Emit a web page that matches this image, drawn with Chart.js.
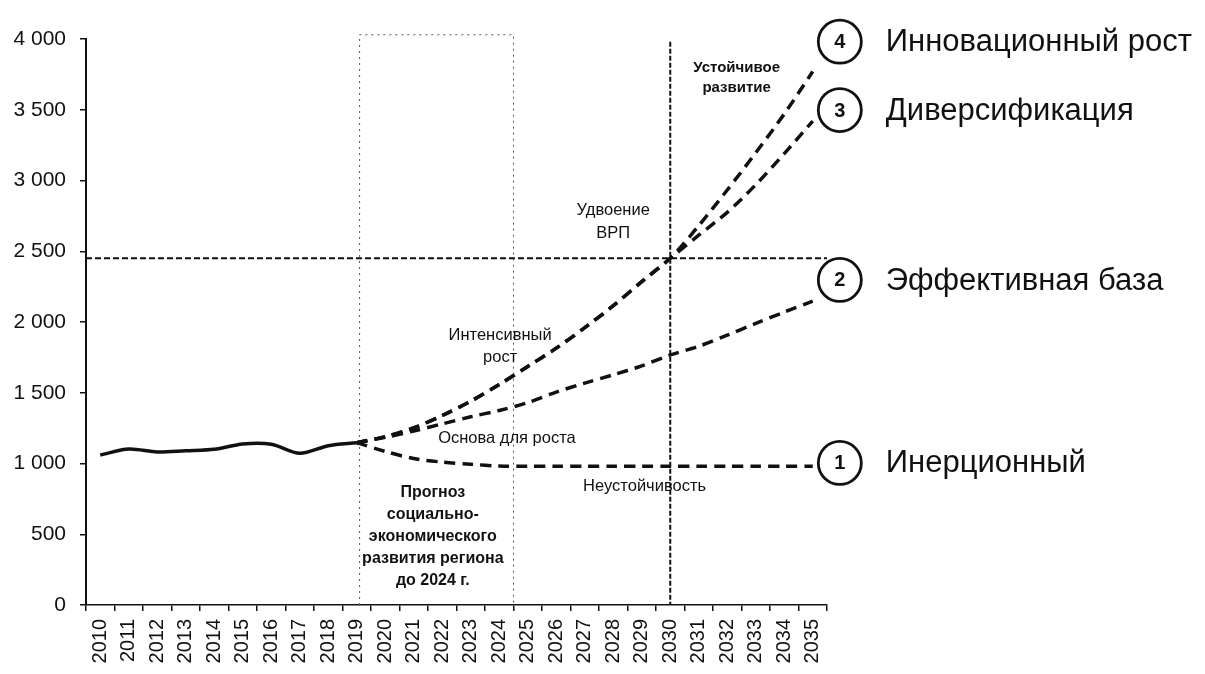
<!DOCTYPE html>
<html lang="ru">
<head>
<meta charset="UTF-8">
<title>Сценарии ВРП</title>
<script src="https://cdn.jsdelivr.net/npm/chart.js"></script>
<style>
    * { margin: 0; padding: 0; box-sizing: border-box; }
    body { background: #fff; width: 1205px; height: 674px; overflow: hidden; }
    #wrap { width: 1205px; height: 674px; }
</style>
</head>
<body>
<div id="wrap"><canvas id="vrp" width="1205" height="674"></canvas></div>
<script>
// years on the x axis
const years = ['2010','2011','2012','2013','2014','2015','2016','2017','2018','2019','2020','2021','2022',
    '2023','2024','2025','2026','2027','2028','2029','2030','2031','2032','2033','2034','2035'];

// actual values 2010-2019
const actual = [1060, 1102, 1081, 1090, 1100, 1138, 1136, 1072, 1126, 1147,
    null, null, null, null, null, null, null, null, null, null, null, null, null, null, null, null];

// scenario 1 - inertial
const inertial = [null, null, null, null, null, null, null, null, null, 1147,
    1085, 1035, 1010, 995, 982, 980, 980, 980, 980, 980, 980, 980, 980, 980, 980, 980];

// scenario 2 - effective base
const effectiveBase = [null, null, null, null, null, null, null, null, null, 1147,
    1185, 1230, 1280, 1330, 1375, 1430, 1505, 1568, 1627, 1690, 1767, 1828, 1907, 1990, 2070, 2148];

// scenario 3 - diversification (intensive growth up to 2030)
const diversification = [null, null, null, null, null, null, null, null, null, 1147,
    1190, 1252, 1339, 1440, 1558, 1686, 1815, 1960, 2115, 2285, 2450, 2614, 2775, 2970, 3190, 3420];

// scenario 4 - innovation growth
const innovation = [null, null, null, null, null, null, null, null, null, 1147,
    1190, 1252, 1339, 1440, 1558, 1686, 1815, 1960, 2115, 2285, 2450, 2681, 2933, 3196, 3470, 3770];

const yTicks = [0, 500, 1000, 1500, 2000, 2500, 3000, 3500, 4000];
const doublingLevel = 2450;
const turnYear = '2030';

const scenarioNames = ['Инерционный', 'Эффективная база', 'Диверсификация', 'Инновационный рост'];
const scenarioMarks = [1004, 2297, 3498, 3981];   // where the numbered circles sit (value axis)

function fmt(v) {
    if (v < 1000) return String(v);
    return Math.floor(v / 1000) + ' ' + String(v % 1000).padStart(3, '0');
}

const FONT = '"Liberation Sans", Arial, sans-serif';

function textLines(ctx, lines, x, y, step) {
    lines.forEach((t, i) => ctx.fillText(t, x, y + i * step));
}

const overlay = {
    id: 'overlay',
    beforeDatasetsDraw(chart) {
        const { ctx, chartArea, scales: { x, y } } = chart;
        ctx.save();
        ctx.strokeStyle = '#111';

        // doubling level
        ctx.lineWidth = 2;
        ctx.setLineDash([6, 3]);
        ctx.beginPath();
        ctx.moveTo(chartArea.left, y.getPixelForValue(doublingLevel));
        ctx.lineTo(chartArea.right, y.getPixelForValue(doublingLevel));
        ctx.stroke();

        // 2030 vertical
        const xv = x.getPixelForValue(years.indexOf(turnYear));
        ctx.setLineDash([5, 2]);
        ctx.beginPath();
        ctx.moveTo(xv, y.getPixelForValue(3980));
        ctx.lineTo(xv, chartArea.bottom);
        ctx.stroke();

        // forecast box up to 2024
        ctx.lineWidth = 1;
        ctx.strokeStyle = '#555';
        ctx.setLineDash([2, 4]);
        const bl = x.getPixelForValue(9.1), br = x.getPixelForValue(14.5);
        const bt = y.getPixelForValue(4030), bb = chartArea.bottom;
        ctx.beginPath();
        ctx.moveTo(bl, bb);
        ctx.lineTo(bl, bt);
        ctx.lineTo(br, bt);
        ctx.lineTo(br, bb);
        ctx.stroke();
        ctx.restore();
    },
    afterDatasetsDraw(chart) {
        const { ctx, scales: { x, y } } = chart;
        ctx.save();
        ctx.fillStyle = '#111';
        ctx.textAlign = 'center';
        ctx.textBaseline = 'middle';

        ctx.font = 'bold 15px ' + FONT;
        textLines(ctx, ['Устойчивое', 'развитие'], x.getPixelForValue(22.33), y.getPixelForValue(3795), 20);

        ctx.font = '16.5px ' + FONT;
        textLines(ctx, ['Удвоение', 'ВРП'], x.getPixelForValue(18), y.getPixelForValue(2791), 23);
        textLines(ctx, ['Интенсивный', 'рост'], x.getPixelForValue(14.03), y.getPixelForValue(1908), 22);
        ctx.fillText('Основа для роста', x.getPixelForValue(14.27), y.getPixelForValue(1180));
        ctx.fillText('Неустойчивость', x.getPixelForValue(19.1), y.getPixelForValue(841));

        ctx.font = 'bold 16px ' + FONT;
        textLines(ctx, ['Прогноз', 'социально-', 'экономического', 'развития региона', 'до 2024 г.'],
            x.getPixelForValue(11.67), y.getPixelForValue(792), 22);

        // numbered circles and scenario names
        const cx = x.getPixelForValue(25.95);
        scenarioMarks.forEach((v, i) => {
            const cy = y.getPixelForValue(v);
            ctx.setLineDash([]);
            ctx.lineWidth = 2.8;
            ctx.strokeStyle = '#111';
            ctx.fillStyle = '#fff';
            ctx.beginPath();
            ctx.arc(cx, cy, 21.5, 0, Math.PI * 2);
            ctx.fill();
            ctx.stroke();
            ctx.fillStyle = '#111';
            ctx.textAlign = 'center';
            ctx.font = 'bold 20px ' + FONT;
            ctx.fillText(String(i + 1), cx, cy + 1);
            ctx.textAlign = 'left';
            ctx.font = '31px ' + FONT;
            ctx.fillText(scenarioNames[i], cx + 46, cy + 1);
        });
        ctx.restore();
    }
};

const dashed = (data) => ({
    data: data,
    borderColor: '#111',
    borderWidth: 3.5,
    borderDash: [11, 7],
    pointRadius: 0,
    tension: 0.3,
    spanGaps: false
});

new Chart(document.getElementById('vrp'), {
    type: 'line',
    data: {
        labels: years,
        datasets: [
            { data: actual, borderColor: '#111', borderWidth: 3.5, pointRadius: 0, tension: 0.3 },
            dashed(inertial),
            dashed(effectiveBase),
            dashed(diversification),
            dashed(innovation)
        ]
    },
    options: {
        responsive: false,
        animation: false,
        events: [],
        layout: { padding: { top: 39, right: 378, bottom: 0, left: 0 } },
        plugins: { legend: { display: false }, tooltip: { enabled: false } },
        scales: {
            x: {
                offset: true,
                grid: { offset: true, drawOnChartArea: false, drawTicks: true, tickLength: 6, color: '#111', lineWidth: 1.5 },
                border: { display: true, color: '#111', width: 1.5 },
                ticks: {
                    autoSkip: false, maxRotation: 90, minRotation: 90, padding: 8,
                    color: '#111', font: { family: FONT, size: 20 }
                },
                afterFit: (s) => { s.height = 69; }
            },
            y: {
                min: 0, max: 4000,
                afterBuildTicks: (s) => { s.ticks = yTicks.map(v => ({ value: v })); },
                grid: { drawOnChartArea: false, drawTicks: true, tickLength: 6, color: '#111', lineWidth: 1.5 },
                border: { display: true, color: '#111', width: 2 },
                ticks: {
                    padding: 14, color: '#111', font: { family: FONT, size: 21 },
                    callback: (v) => fmt(v)
                },
                afterFit: (s) => { s.width = 86; }
            }
        }
    },
    plugins: [overlay]
});
</script>
</body>
</html>
